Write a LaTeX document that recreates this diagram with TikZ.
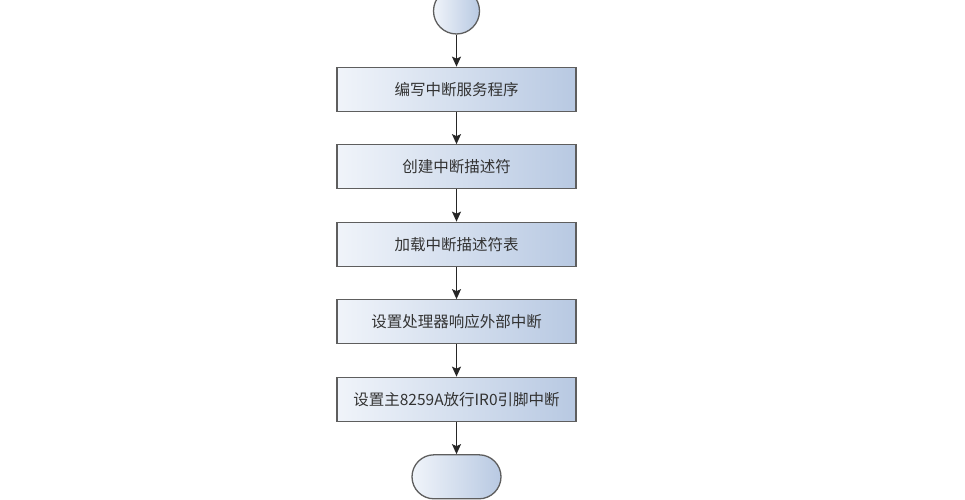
\documentclass[tikz,border=0pt]{standalone}
\usepackage{fontspec}
\newfontfamily\cjk{Noto Sans CJK SC}
\usepackage{tikz}
\usetikzlibrary{arrows.meta,positioning}
\definecolor{boxleft}{HTML}{F0F4FA}
\definecolor{boxright}{HTML}{B8C9E2}
\definecolor{boxline}{HTML}{5E5E5E}
\definecolor{textgray}{HTML}{333333}

\begin{document}
\begin{tikzpicture}[
      x=1pt, y=1pt,
      font=\cjk\fontsize{15.5}{18}\selectfont,
      node distance=32.2pt,
      stepbox/.style={draw=boxline, line width=1.3pt, left color=boxleft, right color=boxright,
        text=textgray, minimum width=239pt, minimum height=44pt, inner sep=0pt},
      startcirc/.style={circle, draw=boxline, line width=1.3pt, left color=boxleft, right color=boxright,
        minimum size=46pt, inner sep=0pt},
      endcap/.style={draw=boxline, line width=1.3pt, left color=boxleft, right color=boxright,
        rounded corners=22pt, minimum width=89pt, minimum height=44pt, inner sep=0pt},
      arrow/.style={-{Stealth[length=10pt, width=9pt, inset=2pt]}, line width=1.3pt, draw=black!85}
    ]
    \useasboundingbox (0,0) rectangle (965,499);
    \clip (0,0) rectangle (965,499);
    \node[startcirc] (start) at (456.5,488) {};
    \node[stepbox, below=32pt of start] (isr) {编写中断服务程序};
    \node[stepbox, below=of isr] (desc) {创建中断描述符};
    \node[stepbox, below=of desc] (idt) {加载中断描述符表};
    \node[stepbox, below=of idt] (cpu) {设置处理器响应外部中断};
    \node[stepbox, below=of cpu] (pic) {设置主8259A放行IR0引脚中断};
    \node[endcap, below=of pic] (stop) {};
    \draw[arrow] (start) -- (isr);
    \draw[arrow] (isr) -- (desc);
    \draw[arrow] (desc) -- (idt);
    \draw[arrow] (idt) -- (cpu);
    \draw[arrow] (cpu) -- (pic);
    \draw[arrow] (pic) -- (stop);
  \end{tikzpicture}
\end{document}
